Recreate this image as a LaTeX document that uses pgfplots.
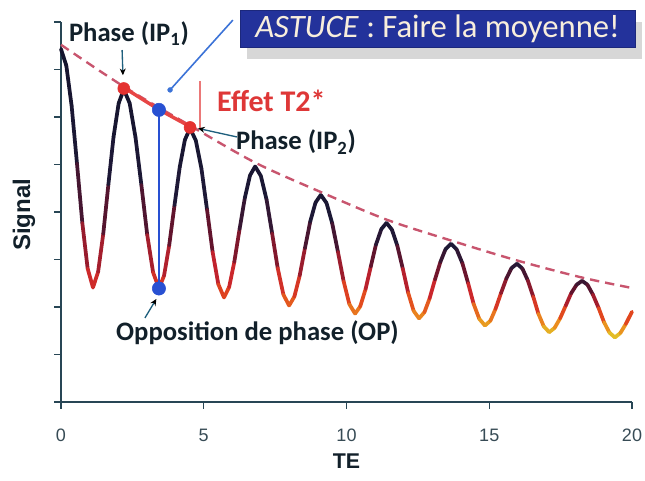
\documentclass[border=0pt]{standalone}
\usepackage{fontspec}
\setmainfont{Carlito}
\newfontfamily\arialf{Liberation Sans}
\usepackage{pgfplots}
\usepackage{pgfplotstable}
\pgfplotsset{compat=1.18}
\usetikzlibrary{shadows,arrows.meta}

\definecolor{axc}{RGB}{40,70,85}
\definecolor{tickc}{RGB}{55,75,85}
\definecolor{envc}{RGB}{200,85,110}
\definecolor{redd}{RGB}{228,50,48}
\definecolor{redl}{RGB}{235,120,120}
\definecolor{blued}{RGB}{40,80,210}
\definecolor{bluel}{RGB}{60,115,215}
\definecolor{boxc}{RGB}{35,50,155}
\definecolor{boxt}{RGB}{248,238,220}
\definecolor{txtc}{RGB}{18,32,42}
\definecolor{arrc}{RGB}{30,95,125}
\definecolor{efc}{RGB}{222,55,55}

\pgfplotstableread{
x y
0 7.43
0.187 7.08
0.373 6.23
0.56 5.02
0.747 3.77
0.933 2.81
1.12 2.41
1.30 2.74
1.48 3.54
1.66 4.58
1.84 5.58
2.02 6.29
2.20 6.58
2.405 6.29
2.61 5.57
2.815 4.57
3.02 3.52
3.225 2.73
3.43 2.39
3.61 2.66
3.79 3.30
3.975 4.14
4.16 4.95
4.34 5.52
4.52 5.76
4.72 5.51
4.92 4.91
5.115 4.05
5.31 3.16
5.51 2.48
5.71 2.20
5.89 2.42
6.07 2.95
6.255 3.64
6.44 4.30
6.62 4.77
6.80 4.96
7.0 4.76
7.2 4.26
7.395 3.55
7.59 2.82
7.79 2.26
7.99 2.03
8.175 2.22
8.36 2.66
8.545 3.24
8.73 3.80
8.915 4.20
9.1 4.36
9.3 4.19
9.5 3.76
9.7 3.16
9.9 2.54
10.1 2.06
10.3 1.86
10.48 2.01
10.67 2.38
10.85 2.85
11.03 3.31
11.22 3.64
11.4 3.77
11.59 3.63
11.78 3.29
11.97 2.81
12.16 2.30
12.35 1.92
12.54 1.76
12.73 1.89
12.91 2.18
13.1 2.58
13.29 2.95
13.47 3.22
13.66 3.33
13.86 3.21
14.06 2.92
14.26 2.50
14.45 2.07
14.65 1.75
14.85 1.61
15.04 1.71
15.22 1.96
15.41 2.29
15.6 2.60
15.78 2.82
15.97 2.91
16.16 2.81
16.35 2.56
16.54 2.22
16.72 1.86
16.91 1.59
17.1 1.47
17.29 1.56
17.48 1.76
17.68 2.03
17.87 2.29
18.06 2.47
18.25 2.55
18.44 2.47
18.63 2.26
18.83 1.98
19.02 1.68
19.21 1.46
19.4 1.36
19.59 1.45
19.78 1.64
20 1.90
}\signal

\pgfplotstableread{
x y
0 7.52
2.2 6.64
4.52 5.82
6.8 5.04
9.1 4.42
11.4 3.84
13.66 3.40
15.97 2.98
18.25 2.62
20 2.40
}\envelope

\begin{document}
\begin{tikzpicture}
\path[use as bounding box] (-45.75pt,-59.25pt) rectangle (438pt,301.5pt);
\begin{axis}[
  scale only axis, width=428.25pt, height=285pt,
  xmin=0, xmax=20, ymin=0, ymax=8,
  axis lines=left,
  axis line style={axc, line width=1.3pt, -},
  xtick={0,5,10,15,20}, ytick={0,1,...,8}, yticklabels={},
  tick align=outside, major tick length=5pt,
  tick style={axc, line width=1pt},
  /pgf/number format/assume math mode=true,
  xticklabel style={font=\arialf\fontsize{13.5}{16}\selectfont, text=tickc, yshift=-12pt},
  clip=false,
  colormap={sig}{rgb255(0pt)=(225,200,40); rgb255(2pt)=(235,140,30); rgb255(4pt)=(225,70,30); rgb255(5.5pt)=(200,35,45); rgb255(8pt)=(100,20,45); rgb255(10.5pt)=(30,25,55); rgb255(15pt)=(20,20,45)},
  point meta min=-0.5, point meta max=1.0,
]
\addplot[mesh, line width=2.8pt, line cap=round, line join=round,
  point meta={(\thisrow{y}-(2.45-0.055*\thisrow{x}))/(7.3*exp(-0.056*\thisrow{x})-(2.45-0.055*\thisrow{x}))-0.025*\thisrow{x}}]
  table[x=x,y=y] {\signal};
\addplot[envc, line width=1.8pt, dash pattern=on 7pt off 4.5pt, smooth] table[x=x,y=y] {\envelope};
\addplot[redd!90!white, line width=2.6pt, smooth] coordinates {(2.2,6.62)(3.43,6.16)(4.52,5.80)};
\addplot[redl, line width=1.2pt] coordinates {(4.87,6.76)(4.87,5.76)};
\addplot[blued, line width=1.6pt] coordinates {(3.43,6.15)(3.43,2.39)};
\addplot[bluel, line width=1.2pt] coordinates {(6.02,8.04)(3.82,6.57)};
\addplot[only marks, mark=*, mark size=1.8pt, bluel] coordinates {(3.82,6.57)};
\addplot[only marks, mark=*, mark size=4.5pt, redd, mark options={draw=redd}] coordinates {(2.2,6.60)(4.52,5.78)};
\addplot[only marks, mark=*, mark size=5pt, blued, mark options={draw=blued}] coordinates {(3.43,6.15)(3.43,2.39)};

\draw[arrc, line width=1pt, -{Stealth[length=5pt,width=4.5pt,black]}] (axis cs:2.14,7.41) -- (axis cs:2.17,6.88);
\draw[arrc, line width=1pt, -{Stealth[length=5pt,width=4.5pt,black]}] (axis cs:6.16,5.58) -- (axis cs:4.80,5.76);
\draw[arrc, line width=1pt, -{Stealth[length=5pt,width=4.5pt,black]}] (axis cs:2.94,1.77) -- (axis cs:3.34,2.17);

\node[text=txtc, font=\fontsize{20}{24}\selectfont\bfseries] at (axis cs:2.38,7.75) {Phase (IP\textsubscript{1})};
\node[text=txtc, font=\fontsize{20}{24}\selectfont\bfseries] at (axis cs:8.23,5.47) {Phase (IP\textsubscript{2})};
\node[text=txtc, font=\fontsize{20}{24}\selectfont\bfseries] at (axis cs:6.88,1.45) {Opposition de phase (OP)};
\node[text=efc, font=\fontsize{22.5}{26}\selectfont\bfseries] at (axis cs:7.37,6.34) {Effet T2*};

\node[fill=boxc, draw=boxc!80!black, line width=0.6pt, minimum width=296pt, minimum height=27.75pt, inner sep=0pt,
  drop shadow={shadow xshift=5pt, shadow yshift=-9pt, fill=gray!70, opacity=0.45},
  text=boxt, font=\fontsize{24.5}{28}\selectfont] at (axis cs:13.19,7.86) {\textit{ASTUCE} : Faire la moyenne!};

\node[text=txtc, font=\arialf\bfseries\fontsize{16}{19}\selectfont] at (axis cs:10,-1.24) {TE};
\node[text=txtc, font=\arialf\bfseries\fontsize{18}{21}\selectfont, rotate=90] at (axis cs:-1.30,3.94) {Signal};
\end{axis}
\end{tikzpicture}
\end{document}
